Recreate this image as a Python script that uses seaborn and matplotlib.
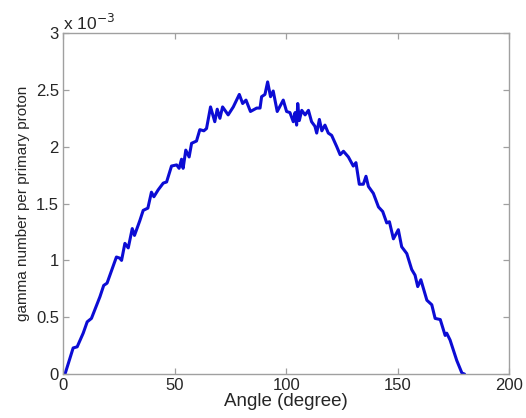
import numpy as np
import pandas as pd
import seaborn as sns
import matplotlib
matplotlib.use('Agg')
import matplotlib.pyplot as plt
from matplotlib.ticker import FuncFormatter

# values (y in units of 1e-3)
angle = [0.5, 1, 4.5, 6.3, 9, 10.8, 12.7, 16.5, 18.2, 19.7, 23.9, 25.4, 26.2, 27.7, 29.2,
         31, 32, 34.4, 35.9, 38, 39.6, 40.7, 42.6, 44.9, 46.4, 48.6, 50.9, 52, 53.1, 53.8,
         55, 56.5, 57.6, 59.8, 61.3, 63.1, 64.3, 66.1, 68, 69.1, 70.3, 71.5, 74, 76.3,
         79, 80.5, 82, 84, 86.8, 88.3, 89, 90.5, 91.7, 93, 94.2, 96, 98.7, 100.2, 101.7,
         103.2, 104, 104.7, 105.2, 105.9, 107, 108.5, 110, 111.4, 112.9, 113.7, 114.9, 116,
         117.4, 118.9, 120.4, 122.7, 124.2, 125.7, 127.9, 130.1, 131.3, 132.8, 134.6, 135.8,
         136.9, 139.1, 141.4, 143.3, 145.1, 146.3, 148.1, 150.3, 151.8, 154.1, 156.3, 157.8,
         159, 160.4, 163.1, 165.3, 166.8, 169.1, 171.3, 172, 173.5, 176.5, 178.8, 180]
gamma = [0.0, 0.01, 0.23, 0.24, 0.36, 0.46, 0.49, 0.68, 0.78, 0.80, 1.03, 1.02, 1.0, 1.15, 1.11,
         1.28, 1.22, 1.35, 1.44, 1.46, 1.60, 1.56, 1.62, 1.68, 1.69, 1.83, 1.84, 1.81, 1.89, 1.81,
         1.97, 1.91, 2.03, 2.05, 2.15, 2.14, 2.16, 2.35, 2.22, 2.33, 2.25, 2.35, 2.28, 2.35,
         2.46, 2.38, 2.41, 2.31, 2.34, 2.34, 2.44, 2.46, 2.57, 2.44, 2.49, 2.31, 2.41, 2.31, 2.30,
         2.22, 2.30, 2.19, 2.38, 2.23, 2.32, 2.28, 2.32, 2.22, 2.18, 2.12, 2.24, 2.14,
         2.19, 2.12, 2.10, 2.00, 1.93, 1.96, 1.91, 1.83, 1.86, 1.67, 1.67, 1.74,
         1.65, 1.59, 1.47, 1.43, 1.33, 1.34, 1.19, 1.27, 1.12, 1.06, 0.92, 0.87,
         0.77, 0.83, 0.65, 0.61, 0.49, 0.48, 0.34, 0.36, 0.30, 0.12, 0.01, 0.0]

df = pd.DataFrame({'angle': angle, 'gamma': gamma})

sns.set_style('white')
plt.rcParams['font.family'] = ['Liberation Sans', 'DejaVu Sans']

fig = plt.figure(figsize=(5.26, 4.18), dpi=100)
ax = fig.add_axes([0.120, 0.105, 0.848, 0.816])
sns.lineplot(data=df, x='angle', y='gamma', color='#0c0cd4', linewidth=2.2, ax=ax, sort=False)

ax.set_xlim(0, 200)
ax.set_ylim(0, 3)
ax.set_xticks([0, 50, 100, 150, 200])
ax.set_yticks([0, 0.5, 1, 1.5, 2, 2.5, 3])
ax.yaxis.set_major_formatter(FuncFormatter(lambda v, p: '%g' % v))
ax.tick_params(direction='in', length=4, width=0.9, color='#a0a0a0', labelsize=12,
               top=True, right=True, bottom=True, left=True, pad=3)
for s in ax.spines.values():
    s.set_color('#a0a0a0')
    s.set_linewidth(1.0)

ax.set_xlabel('Angle (degree)', fontsize=13.5, labelpad=0)
ax.set_ylabel('gamma number per primary proton', fontsize=11, labelpad=4)
ax.text(0.0, 1.0, r'x 10$^{-3}$', transform=ax.transAxes, fontsize=12.5,
        ha='left', va='bottom')

fig.savefig('out.png', dpi=100)
